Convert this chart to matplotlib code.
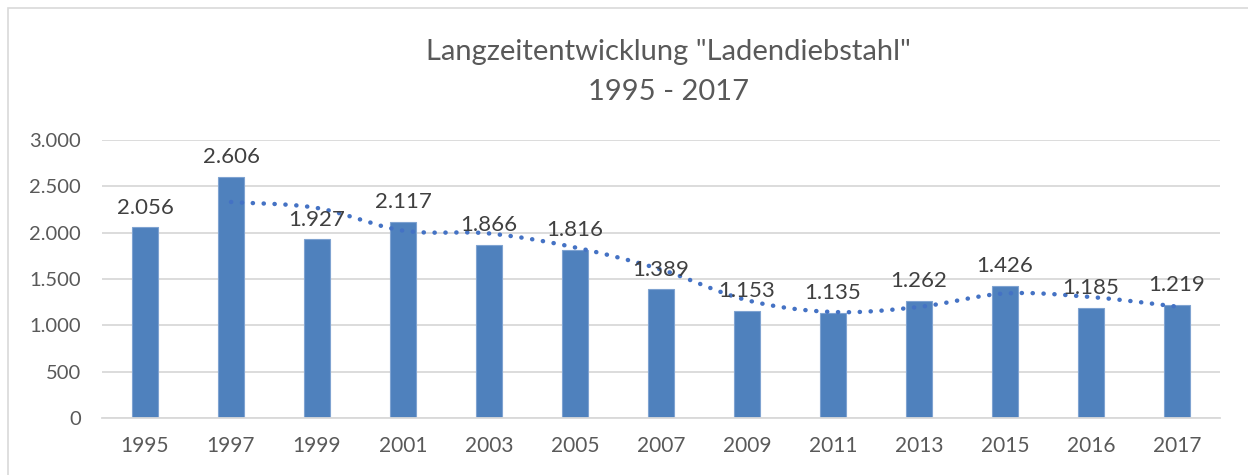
import matplotlib.pyplot as plt
import matplotlib.patches as mpatches
import numpy as np

plt.rcParams['font.family'] = ['Lato', 'DejaVu Sans']

# Daten
jahre = ['1995', '1997', '1999', '2001', '2003', '2005', '2007',
         '2009', '2011', '2013', '2015', '2016', '2017']
faelle = [2056, 2606, 1927, 2117, 1866, 1816, 1389,
          1153, 1135, 1262, 1426, 1185, 1219]
# gleitender Durchschnitt (2 Perioden), ab 1997
trend = [2331, 2266.5, 2022, 1991.5, 1841, 1602.5,
         1271, 1144, 1198.5, 1344, 1305.5, 1202]

blau = '#4F81BD'
grau = '#595959'


def catmull(xs, ys, n=20):
    # glatte Kurve durch die Punkte (nur zum Zeichnen)
    xs = np.asarray(xs, float)
    ys = np.asarray(ys, float)
    px = np.concatenate([[2*xs[0]-xs[1]], xs, [2*xs[-1]-xs[-2]]])
    py = np.concatenate([[2*ys[0]-ys[1]], ys, [2*ys[-1]-ys[-2]]])
    ox, oy = [], []
    t = np.linspace(0, 1, n, endpoint=False)
    for i in range(1, len(px)-2):
        for p, o in ((px, ox), (py, oy)):
            p0, p1, p2, p3 = p[i-1], p[i], p[i+1], p[i+2]
            o.extend(0.5*((2*p1) + (-p0+p2)*t + (2*p0-5*p1+4*p2-p3)*t**2
                          + (-p0+3*p1-3*p2+p3)*t**3))
    ox.append(xs[-1])
    oy.append(ys[-1])
    return np.array(ox), np.array(oy)


fig = plt.figure(figsize=(12.48, 4.75), dpi=100)
ax = fig.add_axes([102/1248, 1-418/475, 1118/1248, 278/475])

x = np.arange(len(jahre))
ax.bar(x, faelle, width=0.31, color=blau, edgecolor='#7FA3D1', linewidth=0.8, zorder=2)

tx, ty = catmull(x[1:], trend)
ax.plot(tx, ty, color='#4472C4', linestyle=(0, (0.05, 2.4)), linewidth=3.2,
        dash_capstyle='round', zorder=3)

for xi, v in zip(x, faelle):
    ax.annotate(f'{v/1000:.3f}', (xi, v), xytext=(0, 7), textcoords='offset points',
                ha='center', va='bottom', fontsize=16, color='#404040', zorder=4)

ax.set_xlim(-0.5, len(jahre)-0.5)
ax.set_ylim(0, 3000)
ax.set_yticks(range(0, 3001, 500))
ax.set_yticklabels(['0', '500', '1.000', '1.500', '2.000', '2.500', '3.000'])
ax.set_xticks(x)
ax.set_xticklabels(jahre)
ax.tick_params(axis='both', length=0, labelsize=14.5, labelcolor=grau)
ax.tick_params(axis='x', labelsize=15, pad=13)
ax.tick_params(axis='y', pad=15)
ax.grid(axis='y', color='#D9D9D9', linewidth=1.3, zorder=0)
ax.set_axisbelow(True)
for s in ['top', 'right', 'left']:
    ax.spines[s].set_visible(False)
ax.spines['bottom'].set_color('#D9D9D9')
ax.spines['bottom'].set_linewidth(1.3)

fig.text(668/1248, 1-52/475, 'Langzeitentwicklung "Ladendiebstahl"',
         ha='center', va='center', fontsize=21, color=grau)
fig.text(668/1248, 1-92/475, '1995 - 2017',
         ha='center', va='center', fontsize=21, color=grau)

# Rahmen
rahmen = mpatches.Rectangle((8/1248, -0.1), 1.2, 1-8/475+0.1, transform=fig.transFigure,
                            fill=False, edgecolor='#D9D9D9', linewidth=1.2, clip_on=False)
fig.patches.append(rahmen)

fig.savefig('out.png', dpi=100)
